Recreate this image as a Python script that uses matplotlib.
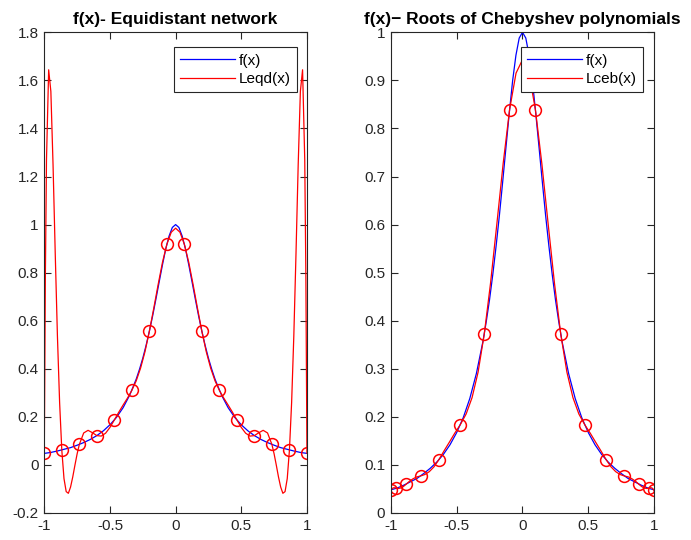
import numpy as np
import matplotlib
matplotlib.use("Agg")
import matplotlib.pyplot as plt

plt.rcParams['font.family'] = ['Liberation Sans', 'DejaVu Sans']
plt.rcParams['axes.unicode_minus'] = False

# --- values (right half, x >= 0; the curves are symmetric) ---
# f(x), same curve on both panels
x_f = [0, 0.025, 0.05, 0.075, 0.1, 0.125, 0.15, 0.175, 0.2, 0.225, 0.25, 0.275,
       0.3, 0.35, 0.4, 0.45, 0.5, 0.55, 0.6, 0.65, 0.7, 0.75, 0.8, 0.85, 0.9, 0.95, 1.0]
f_vals = [1.0, 0.988, 0.952, 0.899, 0.833, 0.762, 0.690, 0.620, 0.556, 0.497, 0.444, 0.398,
          0.357, 0.290, 0.238, 0.198, 0.167, 0.142, 0.122, 0.106, 0.093, 0.082, 0.072, 0.065,
          0.058, 0.052, 0.048]

# Leqd(x), interpolant on the equidistant network
x_eqd_curve = [0, 0.0333, 0.0667, 0.1, 0.1333, 0.1667, 0.2, 0.2333, 0.2667, 0.3, 0.3333,
               0.3667, 0.4, 0.4333, 0.4667, 0.5, 0.5333, 0.5667, 0.6, 0.6333, 0.6667, 0.7,
               0.7333, 0.75, 0.7667, 0.7833, 0.8, 0.8167, 0.8333, 0.85, 0.8667, 0.8833, 0.9,
               0.9167, 0.9333, 0.95, 0.9667, 0.9833, 0.9917, 1.0]
leqd_vals = [0.985, 0.968, 0.918, 0.843, 0.750, 0.651, 0.556, 0.471, 0.403, 0.350, 0.310,
             0.278, 0.249, 0.219, 0.187, 0.156, 0.132, 0.120, 0.122, 0.134, 0.144, 0.133,
             0.085, 0.046, -0.001, -0.050, -0.092, -0.118, -0.111, -0.057, 0.062, 0.259, 0.536,
             0.880, 1.248, 1.554, 1.644, 1.269, 0.794, 0.048]

# equidistant nodes
x_eqd_nodes = [0.0667, 0.2, 0.3333, 0.4667, 0.6, 0.7333, 0.8667, 1.0]
y_eqd_nodes = [0.918, 0.556, 0.310, 0.187, 0.122, 0.085, 0.062, 0.048]

# Lceb(x), interpolant on the Chebyshev roots
x_ceb_curve = [0, 0.0491, 0.0980, 0.1467, 0.1951, 0.2430, 0.2903, 0.3369, 0.3827, 0.4276,
               0.4714, 0.5141, 0.5556, 0.5957, 0.6344, 0.6716, 0.7071, 0.7410, 0.7730, 0.8032,
               0.8315, 0.8577, 0.8819, 0.9040, 0.9239, 0.9415, 0.9569, 0.9700, 0.9808, 0.9892,
               0.9952, 0.9988, 1.0]
lceb_vals = [0.943, 0.915, 0.839, 0.727, 0.600, 0.477, 0.372, 0.293, 0.240, 0.206,
             0.184, 0.166, 0.147, 0.129, 0.111, 0.096, 0.086, 0.080, 0.077, 0.075,
             0.071, 0.066, 0.060, 0.055, 0.052, 0.051, 0.052, 0.0525, 0.0523, 0.0506,
             0.048, 0.0458, 0.0449]

# Chebyshev nodes
x_ceb_nodes = [0.098, 0.2903, 0.4714, 0.6344, 0.773, 0.8819, 0.9569, 0.9952]
y_ceb_nodes = [0.839, 0.372, 0.184, 0.111, 0.077, 0.060, 0.052, 0.048]

left_yticks = [-0.2, 0, 0.2, 0.4, 0.6, 0.8, 1, 1.2, 1.4, 1.6, 1.8]
left_yticklabels = ['-0.2', '0', '0.2', '0.4', '0.6', '0.8', '1', '1.2', '1.4', '1.6', '1.8']
right_yticks = [0, 0.1, 0.2, 0.3, 0.4, 0.5, 0.6, 0.7, 0.8, 0.9, 1]
right_yticklabels = ['0', '0.1', '0.2', '0.3', '0.4', '0.5', '0.6', '0.7', '0.8', '0.9', '1']
xticks = [-1, -0.5, 0, 0.5, 1]
xticklabels = ['-1', '-0.5', '0', '0.5', '1']


def mirror(x, y):
    """Build the full symmetric curve from its x >= 0 half."""
    x = np.asarray(x, dtype=float)
    y = np.asarray(y, dtype=float)
    if x[0] == 0:
        return np.concatenate([-x[:0:-1], x]), np.concatenate([y[:0:-1], y])
    return np.concatenate([-x[::-1], x]), np.concatenate([y[::-1], y])


def style_axes(ax, yticks, yticklabels):
    grey = '#262626'
    for s in ax.spines.values():
        s.set_color(grey)
        s.set_linewidth(0.8)
    ax.set_xticks(xticks)
    ax.set_xticklabels(xticklabels)
    ax.set_yticks(yticks)
    ax.set_yticklabels(yticklabels)
    ax.tick_params(direction='in', length=5, width=0.8, color=grey, labelcolor=grey,
                   labelsize=11, top=True, right=True, pad=4)


def add_legend(ax, anchor_x):
    leg = ax.legend(loc='upper right', bbox_to_anchor=(anchor_x, 0.9685), borderaxespad=0,
                    fontsize=11, handlelength=3.6, handletextpad=0.25, labelspacing=0.3,
                    borderpad=0.4, fancybox=False, framealpha=1)
    leg.get_frame().set_edgecolor('#262626')
    leg.get_frame().set_linewidth(0.8)
    return leg


fig = plt.figure(figsize=(6.91, 5.40), dpi=100)
ax1 = fig.add_axes([0.0641, 0.050, 0.3801, 0.8902])
ax2 = fig.add_axes([0.5654, 0.050, 0.3815, 0.8902])

lw = 0.9
mk = dict(linestyle='none', marker='o', markersize=8.5, markerfacecolor='none',
          markeredgecolor='red', markeredgewidth=1.1)

# left panel
xf, yf = mirror(x_f, f_vals)
xe, ye = mirror(x_eqd_curve, leqd_vals)
xn, yn = mirror(x_eqd_nodes, y_eqd_nodes)
ax1.plot(xf, yf, color='blue', lw=lw, label='f(x)')
ax1.plot(xe, ye, color='red', lw=lw, label='Leqd(x)')
ax1.plot(xn, yn, **mk)
ax1.set_xlim(-1, 1)
ax1.set_ylim(-0.2, 1.8)
style_axes(ax1, left_yticks, left_yticklabels)
ax1.set_title('f(x)- Equidistant network', fontsize=12.5, fontweight='bold', pad=6)
add_legend(ax1, 0.961)

# right panel
xc, yc = mirror(x_ceb_curve, lceb_vals)
xcn, ycn = mirror(x_ceb_nodes, y_ceb_nodes)
ax2.plot(xf, yf, color='blue', lw=lw, label='f(x)')
ax2.plot(xc, yc, color='red', lw=lw, label='Lceb(x)')
ax2.plot(xcn, ycn, **mk)
ax2.set_xlim(-1, 1)
ax2.set_ylim(0, 1)
style_axes(ax2, right_yticks, right_yticklabels)
ax2.set_title('f(x)\u2212 Roots of Chebyshev polynomials', fontsize=12.5, fontweight='bold', pad=6)
add_legend(ax2, 0.957)

fig.savefig('out.png', dpi=100)
